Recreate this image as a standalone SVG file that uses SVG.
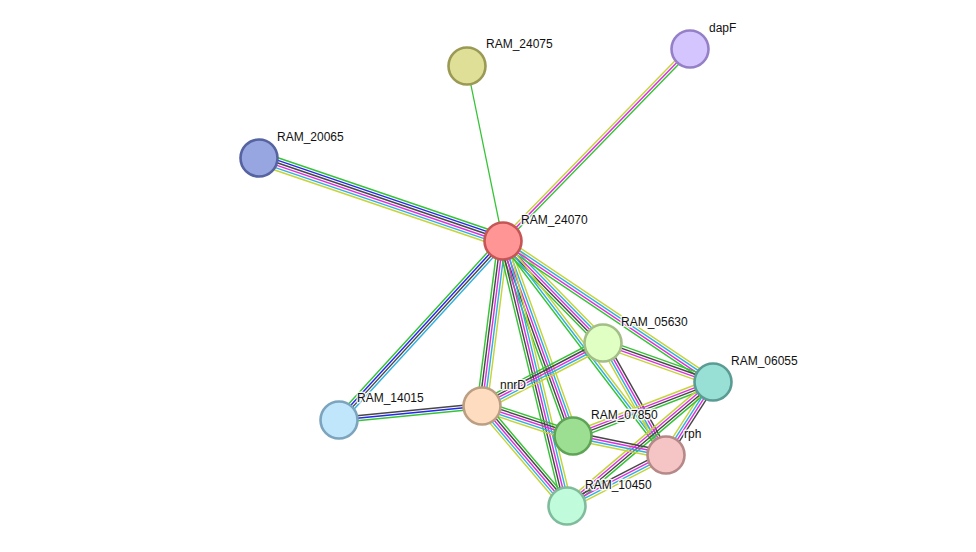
<svg xmlns="http://www.w3.org/2000/svg" width="976" height="552" viewBox="0 0 976 552">
<style>
line{stroke-width:1.25;fill:none}
.g{stroke:#35c435}.b{stroke:#2626ee}.k{stroke:#474747}.m{stroke:#dd30dd}.c{stroke:#30b0e0}.y{stroke:#c4d43a}
circle{stroke-width:2.6}
text{font-family:"Liberation Sans",Arial,sans-serif;font-size:12px;fill:#111;stroke:#fff;stroke-width:3;stroke-opacity:0.85;paint-order:stroke;stroke-linejoin:round}
</style>
<rect width="976" height="552" fill="#fff"/>
<g id="connectors">
<g transform="translate(503 241) rotate(-101.62)"><line x2="178.7" class="g"/></g>
<g transform="translate(503 241) rotate(-45.76) scale(1 1.15)"><line x2="268" y1="-2.2" y2="-2.2" class="y"/><line x2="268" class="m"/><line x2="268" y1="2.2" y2="2.2" class="g"/></g>
<g transform="translate(503 241) rotate(-161.21) scale(1 1.15)"><line x2="257.7" y1="5.5" y2="5.5" class="g"/><line x2="257.7" y1="3.3" y2="3.3" class="b"/><line x2="257.7" y1="1.1" y2="1.1" class="k"/><line x2="257.7" y1="-1.1" y2="-1.1" class="m"/><line x2="257.7" y1="-3.3" y2="-3.3" class="c"/><line x2="257.7" y1="-5.5" y2="-5.5" class="y"/></g>
<g transform="translate(503 241) rotate(132.5) scale(1 1.15)"><line x2="242.8" y1="3.3" y2="3.3" class="g"/><line x2="242.8" y1="1.1" y2="1.1" class="b"/><line x2="242.8" y1="-1.1" y2="-1.1" class="k"/><line x2="242.8" y1="-3.3" y2="-3.3" class="c"/></g>
<g transform="translate(339 420) rotate(-5.59) scale(1 1.15)"><line x2="143.7" y1="-2.2" y2="-2.2" class="k"/><line x2="143.7" class="b"/><line x2="143.7" y1="2.2" y2="2.2" class="g"/></g>
<g transform="translate(503 241) rotate(97.25) scale(1 1.15)"><line x2="166.3" y1="4.4" y2="4.4" class="g"/><line x2="166.3" y1="2.2" y2="2.2" class="k"/><line x2="166.3" class="m"/><line x2="166.3" y1="-2.2" y2="-2.2" class="c"/><line x2="166.3" y1="-4.4" y2="-4.4" class="y"/></g>
<g transform="translate(503 241) rotate(70.25) scale(1 1.15)"><line x2="207.2" y1="4.4" y2="4.4" class="g"/><line x2="207.2" y1="2.2" y2="2.2" class="k"/><line x2="207.2" class="m"/><line x2="207.2" y1="-2.2" y2="-2.2" class="c"/><line x2="207.2" y1="-4.4" y2="-4.4" class="y"/></g>
<g transform="translate(503 241) rotate(76.42) scale(1 1.15)"><line x2="272.6" y1="4.4" y2="4.4" class="g"/><line x2="272.6" y1="2.2" y2="2.2" class="k"/><line x2="272.6" class="m"/><line x2="272.6" y1="-2.2" y2="-2.2" class="c"/><line x2="272.6" y1="-4.4" y2="-4.4" class="y"/></g>
<g transform="translate(503 241) rotate(45.57) scale(1 1.15)"><line x2="142.8" y1="4.4" y2="4.4" class="g"/><line x2="142.8" y1="2.2" y2="2.2" class="k"/><line x2="142.8" class="m"/><line x2="142.8" y1="-2.2" y2="-2.2" class="c"/><line x2="142.8" y1="-4.4" y2="-4.4" class="y"/></g>
<g transform="translate(503 241) rotate(33.88) scale(1 1.15)"><line x2="252.9" y1="-3.3" y2="-3.3" class="y"/><line x2="252.9" y1="-1.1" y2="-1.1" class="c"/><line x2="252.9" y1="1.1" y2="1.1" class="m"/><line x2="252.9" y1="3.3" y2="3.3" class="g"/></g>
<g transform="translate(503 241) rotate(52.7) scale(1 1.15)"><line x2="269" y1="-2.2" y2="-2.2" class="y"/><line x2="269" class="c"/><line x2="269" y1="2.2" y2="2.2" class="g"/></g>
<g transform="translate(603 343) rotate(19.52) scale(1 1.15)"><line x2="116.7" y1="-3.3" y2="-3.3" class="g"/><line x2="116.7" y1="-1.1" y2="-1.1" class="k"/><line x2="116.7" y1="1.1" y2="1.1" class="m"/><line x2="116.7" y1="3.3" y2="3.3" class="y"/></g>
<g transform="translate(603 343) rotate(152.5) scale(1 1.15)"><line x2="136.4" y1="4.4" y2="4.4" class="g"/><line x2="136.4" y1="2.2" y2="2.2" class="k"/><line x2="136.4" class="m"/><line x2="136.4" y1="-2.2" y2="-2.2" class="c"/><line x2="136.4" y1="-4.4" y2="-4.4" class="y"/></g>
<g transform="translate(603 343) rotate(60.64) scale(1 1.15)"><line x2="128.5" y1="3.3" y2="3.3" class="y"/><line x2="128.5" y1="1.1" y2="1.1" class="c"/><line x2="128.5" y1="-1.1" y2="-1.1" class="m"/><line x2="128.5" y1="-3.3" y2="-3.3" class="k"/></g>
<g transform="translate(713 382) rotate(158.91) scale(1 1.15)"><line x2="150.1" y1="3.3" y2="3.3" class="y"/><line x2="150.1" y1="1.1" y2="1.1" class="m"/><line x2="150.1" y1="-1.1" y2="-1.1" class="k"/><line x2="150.1" y1="-3.3" y2="-3.3" class="g"/></g>
<g transform="translate(713 382) rotate(122.77) scale(1 1.15)"><line x2="86.8" y1="3.3" y2="3.3" class="y"/><line x2="86.8" y1="1.1" y2="1.1" class="c"/><line x2="86.8" y1="-1.1" y2="-1.1" class="m"/><line x2="86.8" y1="-3.3" y2="-3.3" class="k"/></g>
<g transform="translate(713 382) rotate(139.66) scale(1 1.15)"><line x2="191.6" y1="3.3" y2="3.3" class="y"/><line x2="191.6" y1="1.1" y2="1.1" class="m"/><line x2="191.6" y1="-1.1" y2="-1.1" class="k"/><line x2="191.6" y1="-3.3" y2="-3.3" class="g"/></g>
<g transform="translate(482 406) rotate(18.25) scale(1 1.15)"><line x2="95.8" y1="-4.4" y2="-4.4" class="g"/><line x2="95.8" y1="-2.2" y2="-2.2" class="k"/><line x2="95.8" class="m"/><line x2="95.8" y1="2.2" y2="2.2" class="c"/><line x2="95.8" y1="4.4" y2="4.4" class="y"/></g>
<g transform="translate(482 406) rotate(49.64) scale(1 1.15)"><line x2="131.2" y1="-4.4" y2="-4.4" class="g"/><line x2="131.2" y1="-2.2" y2="-2.2" class="k"/><line x2="131.2" class="m"/><line x2="131.2" y1="2.2" y2="2.2" class="c"/><line x2="131.2" y1="4.4" y2="4.4" class="y"/></g>
<g transform="translate(573 436) rotate(11.55) scale(1 1.15)"><line x2="94.9" y1="-3.3" y2="-3.3" class="k"/><line x2="94.9" y1="-1.1" y2="-1.1" class="m"/><line x2="94.9" y1="1.1" y2="1.1" class="c"/><line x2="94.9" y1="3.3" y2="3.3" class="y"/></g>
<g transform="translate(666 455) rotate(152.75) scale(1 1.15)"><line x2="111.4" y1="3.3" y2="3.3" class="k"/><line x2="111.4" y1="1.1" y2="1.1" class="m"/><line x2="111.4" y1="-1.1" y2="-1.1" class="c"/><line x2="111.4" y1="-3.3" y2="-3.3" class="y"/></g>
</g>
<g id="RAM_24075"><circle cx="467" cy="66" r="18.5" fill="#dfdf98" stroke="#9a9a55"/><text x="486" y="48">RAM_24075</text></g>
<g id="dapF"><circle cx="690" cy="49" r="18.5" fill="#d5c5ff" stroke="#9580c8"/><text x="709" y="32">dapF</text></g>
<g id="RAM_20065"><circle cx="259" cy="158" r="18.5" fill="#97a5e0" stroke="#5563a0"/><text x="277" y="141">RAM_20065</text></g>
<g id="RAM_24070"><circle cx="503" cy="241" r="18.5" fill="#ff9595" stroke="#c65555"/><text x="521" y="224">RAM_24070</text></g>
<g id="RAM_05630"><circle cx="603" cy="343" r="18.5" fill="#e0ffc3" stroke="#a3be86"/><text x="621" y="326">RAM_05630</text></g>
<g id="RAM_06055"><circle cx="713" cy="382" r="18.5" fill="#98e0d5" stroke="#5a9c93"/><text x="731" y="365">RAM_06055</text></g>
<g id="RAM_14015"><circle cx="339" cy="420" r="18.5" fill="#c0e6fb" stroke="#7ca4bd"/><text x="357" y="402">RAM_14015</text></g>
<g id="nnrD"><circle cx="482" cy="406" r="18.5" fill="#fddcbf" stroke="#bc9e83"/><text x="500" y="389">nnrD</text></g>
<g id="RAM_07850"><circle cx="573" cy="436" r="18.5" fill="#9ddf92" stroke="#5fa456"/><text x="591" y="419">RAM_07850</text></g>
<g id="rph"><circle cx="666" cy="455" r="18.5" fill="#f5c5c5" stroke="#b68888"/><text x="684" y="438">rph</text></g>
<g id="RAM_10450"><circle cx="567" cy="506" r="18.5" fill="#c0fbdb" stroke="#80bc9c"/><text x="585" y="489">RAM_10450</text></g>
</svg>
